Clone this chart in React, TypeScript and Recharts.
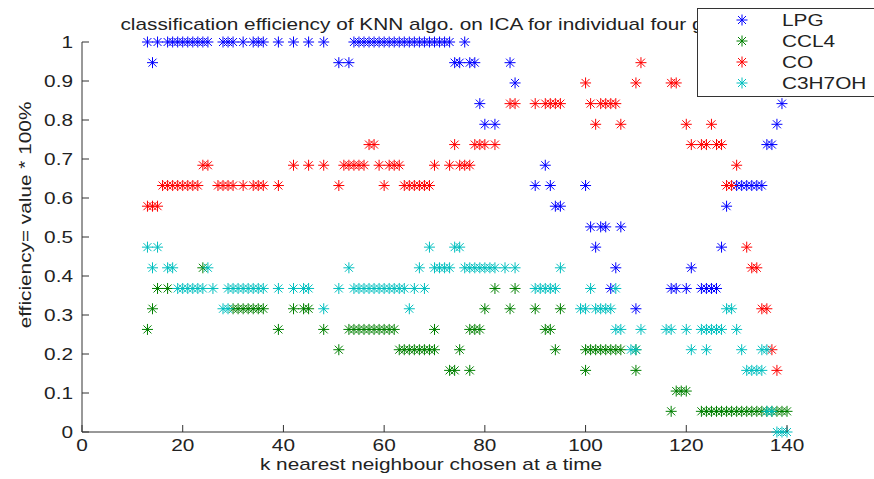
import { Legend, Scatter, ScatterChart, XAxis, YAxis } from "recharts"

const lpgLevels: [number, number[]][] = [
  [1, [13, 15, 17, 18, 19, 20, 21, 22, 23, 24, 25, 28, 29, 30, 32, 34, 35, 36, 39, 42, 45, 48, 54, 55, 56, 57, 58, 59, 60, 61, 62, 63, 64, 65, 66, 67, 68, 69, 70, 71, 72, 73, 76]],
  [0.947, [14, 51, 53, 74, 75, 77, 78, 85]],
  [0.895, [86]],
  [0.842, [79, 139]],
  [0.789, [80, 82, 138]],
  [0.737, [136, 137]],
  [0.684, [92]],
  [0.632, [90, 93, 100, 130, 131, 132, 133, 134, 135]],
  [0.579, [94, 95, 128]],
  [0.526, [101, 103, 104, 107]],
  [0.474, [102, 127]],
  [0.421, [106, 121]],
  [0.368, [105, 117, 118, 120, 123, 124, 125, 126]],
  [0.316, [110]],
]

const ccl4Levels: [number, number[]][] = [
  [0.421, [24]],
  [0.368, [15, 17, 82, 86]],
  [0.316, [14, 30, 31, 32, 33, 34, 35, 36, 42, 44, 45, 80, 85, 90, 95]],
  [0.263, [13, 39, 48, 53, 54, 55, 56, 57, 58, 59, 60, 61, 62, 70, 77, 78, 79, 92, 93]],
  [0.211, [51, 63, 64, 65, 66, 67, 68, 69, 70, 75, 94, 100, 101, 102, 103, 104, 105, 106, 107, 110]],
  [0.158, [73, 74, 77, 100, 110]],
  [0.105, [118, 119, 120]],
  [0.053, [117, 123, 124, 125, 126, 127, 128, 129, 130, 131, 132, 133, 134, 135, 136, 137, 138, 139, 140]],
]

const coLevels: [number, number[]][] = [
  [0.947, [111]],
  [0.895, [100, 110, 117, 118]],
  [0.842, [85, 86, 90, 92, 93, 94, 95, 101, 103, 104, 105, 106]],
  [0.789, [102, 107, 120, 125]],
  [0.737, [57, 58, 74, 78, 79, 80, 82, 121, 123, 124, 126, 127]],
  [0.684, [24, 25, 42, 45, 48, 52, 53, 54, 55, 56, 59, 61, 62, 63, 70, 73, 75, 76, 77, 130]],
  [0.632, [16, 17, 18, 19, 20, 21, 22, 23, 27, 28, 29, 30, 32, 34, 35, 36, 39, 51, 60, 64, 65, 66, 67, 68, 69, 128, 129]],
  [0.579, [13, 14, 15]],
  [0.474, [132]],
  [0.421, [133, 134]],
  [0.316, [135, 136]],
  [0.211, [137]],
  [0.158, [138]],
]

const c3h7ohLevels: [number, number[]][] = [
  [0.474, [13, 15, 69, 74, 75]],
  [0.421, [14, 17, 18, 25, 53, 67, 70, 71, 72, 73, 76, 77, 78, 79, 80, 81, 82, 84, 86, 95]],
  [0.368, [19, 20, 21, 22, 23, 24, 26, 29, 30, 31, 32, 33, 34, 35, 36, 39, 42, 44, 45, 51, 54, 55, 56, 57, 58, 59, 60, 61, 62, 63, 64, 66, 68, 90, 91, 92, 93, 94, 101, 106]],
  [0.316, [28, 29, 48, 65, 99, 100, 102, 103, 104, 105, 128, 129]],
  [0.263, [106, 107, 111, 116, 117, 120, 123, 124, 125, 126, 127, 130]],
  [0.211, [109, 110, 121, 124, 131, 135, 136]],
  [0.158, [132, 133, 134, 135]],
  [0.053, [136, 137]],
  [0, [138, 139, 140]],
]

const seriesNames = ["LPG", "CCL4", "CO", "C3H7OH"]
const COLORS = ["#0000ff", "#008000", "#ff0000", "#00bfbf"]

const xTicks = [0, 20, 40, 60, 80, 100, 120, 140]
const yTicks = [0, 0.1, 0.2, 0.3, 0.4, 0.5, 0.6, 0.7, 0.8, 0.9, 1]

const FONT = '"Liberation Sans", Arial, sans-serif'

const toPoints = (levels: [number, number[]][]) =>
  levels.flatMap(([v, ks]) => ks.map((k) => ({ k, v })))

const series = [lpgLevels, ccl4Levels, coLevels, c3h7ohLevels].map(toPoints)

function Star(props: any) {
  const { cx, cy, fill } = props
  if (cx == null || cy == null) return null
  return (
    <g stroke={fill} strokeWidth={1} fill="none">
      <line x1={cx - 5.5} y1={cy} x2={cx + 5.5} y2={cy} />
      <line x1={cx} y1={cy - 5.5} x2={cx} y2={cy + 5.5} />
      <line x1={cx - 4} y1={cy - 4} x2={cx + 4} y2={cy + 4} />
      <line x1={cx - 4} y1={cy + 4} x2={cx + 4} y2={cy - 4} />
    </g>
  )
}

function XTick(props: any) {
  const { x, y, payload } = props
  return (
    <g>
      <line x1={x} y1={y} x2={x} y2={y - 7} stroke="#333" />
      <text transform={`translate(${x},${y + 19}) scale(1.3,1)`} textAnchor="middle" fontFamily={FONT} fontSize={16} fill="#222">
        {payload.value}
      </text>
    </g>
  )
}

function YTick(props: any) {
  const { x, y, payload } = props
  return (
    <g>
      <line x1={x} y1={y} x2={x + 7} y2={y} stroke="#333" />
      <text transform={`translate(${x - 9},${y + 6}) scale(1.3,1)`} textAnchor="end" fontFamily={FONT} fontSize={16} fill="#222">
        {payload.value}
      </text>
    </g>
  )
}

function LegendBox() {
  return (
    <div style={{ width: 177, height: 89, background: "#fff", border: "1px solid #333", borderRight: "none", boxSizing: "border-box" }}>
      <svg width={176} height={87}>
        {seriesNames.map((name, i) => (
          <g key={name}>
            <Star cx={44} cy={11 + i * 21} fill={COLORS[i]} />
            <text transform={`translate(84,${17 + i * 21}) scale(1.3,1)`} fontFamily={FONT} fontSize={16} fill="#222">
              {name}
            </text>
          </g>
        ))}
      </svg>
    </div>
  )
}

export default function App() {
  return (
    <div style={{ position: "absolute", left: 0, top: 0, width: 874, height: 479, background: "#fff" }}>
      <ScatterChart width={874} height={479} margin={{ top: 42, right: 87, bottom: 0, left: 0 }}>
        <XAxis
          type="number"
          dataKey="k"
          domain={[0, 140]}
          ticks={xTicks}
          interval={0}
          height={47}
          tickSize={0}
          tickMargin={0}
          tickLine={false}
          axisLine={{ stroke: "#333" }}
          tick={<XTick />}
        />
        <YAxis
          type="number"
          dataKey="v"
          domain={[0, 1]}
          ticks={yTicks}
          interval={0}
          width={82}
          tickSize={0}
          tickMargin={0}
          tickLine={false}
          axisLine={{ stroke: "#333" }}
          tick={<YTick />}
        />
        {series.map((data, i) => (
          <Scatter key={seriesNames[i]} name={seriesNames[i]} data={data} fill={COLORS[i]} shape={<Star />} isAnimationActive={false} />
        ))}
        <text transform="translate(434,30) scale(1.3,1)" textAnchor="middle" fontFamily={FONT} fontSize={16} fill="#222">
          classification efficiency of KNN algo. on ICA for individual four gases
        </text>
        <text transform="translate(431,470) scale(1.3,1)" textAnchor="middle" fontFamily={FONT} fontSize={16} fill="#222">
          k nearest neighbour chosen at a time
        </text>
        <text transform="translate(31,215) rotate(-90) scale(1.3,1)" textAnchor="middle" fontFamily={FONT} fontSize={16} fill="#222">
          efficiency= value * 100%
        </text>
        <Legend
          layout="horizontal"
          verticalAlign="middle"
          align="center"
          content={() => <LegendBox />}
          wrapperStyle={{ position: "absolute", left: 697, top: 8, width: 177, height: 89 }}
        />
      </ScatterChart>
    </div>
  )
}
